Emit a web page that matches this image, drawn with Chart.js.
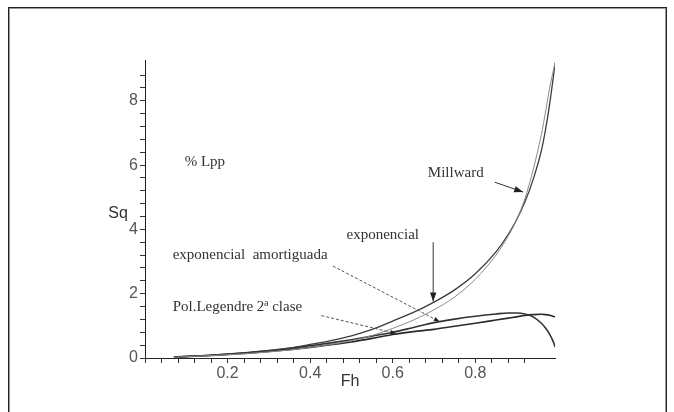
<!DOCTYPE html>
<html>
<head>
<meta charset="utf-8">
<script src="https://cdn.jsdelivr.net/npm/chart.js@4/dist/chart.umd.min.js"></script>
<style>
  html, body { margin: 0; padding: 0; background: #fff; }
  canvas { display: block; }
</style>
</head>
<body>
<canvas id="c" width="674" height="412"></canvas>
<script>
// Fh values shared by every curve
const fh = [0.07, 0.1, 0.15, 0.2, 0.25, 0.3, 0.35, 0.4, 0.45, 0.5, 0.55, 0.6, 0.65, 0.7,
            0.75, 0.8, 0.85, 0.88, 0.9, 0.92, 0.94, 0.96, 0.97, 0.98, 0.99, 0.993];

// Squat (% Lpp) for each formulation
const sqExponencial = [0.03, 0.05, 0.08, 0.12, 0.17, 0.23, 0.31, 0.42, 0.54, 0.69, 0.89, 1.15, 1.42, 1.74,
                       2.12, 2.62, 3.30, 3.85, 4.30, 4.85, 5.55, 6.45, 7.10, 7.90, 8.85, 9.18];
const sqMillward    = [0.02, 0.04, 0.07, 0.10, 0.14, 0.19, 0.25, 0.33, 0.42, 0.54, 0.70, 0.92, 1.18, 1.50,
                       1.90, 2.45, 3.20, 3.80, 4.30, 4.95, 5.85, 6.95, 7.65, 8.40, 9.00, 9.18];
const sqAmortiguada = [0.03, 0.05, 0.08, 0.12, 0.17, 0.23, 0.30, 0.38, 0.47, 0.57, 0.68, 0.80, 0.95, 1.10,
                       1.21, 1.30, 1.37, 1.40, 1.40, 1.37, 1.28, 1.08, 0.93, 0.74, 0.47, 0.34];
const sqLegendre    = [0.02, 0.04, 0.07, 0.11, 0.15, 0.20, 0.26, 0.33, 0.41, 0.50, 0.61, 0.73, 0.82, 0.89,
                       0.99, 1.08, 1.18, 1.24, 1.28, 1.32, 1.35, 1.36, 1.35, 1.33, 1.29, 1.28];

// Labelled ticks
const xTickLabels = [0.2, 0.4, 0.6, 0.8];
const yTickLabels = [0, 2, 4, 6, 8];

// Curve labels: text anchor (left, middle) and optional arrow [from, to] in data units
const notes = [
  { text: '% Lpp', at: [0.096, 6.1] },
  { text: 'Millward', at: [0.685, 5.75], arrow: [[0.847, 5.47], [0.916, 5.16]], dashed: false },
  { text: 'exponencial', at: [0.488, 3.82], arrow: [[0.698, 3.6], [0.698, 1.76]], dashed: false },
  { text: 'exponencial  amortiguada', at: [0.067, 3.19], arrow: [[0.455, 2.86], [0.714, 1.13]], dashed: true },
  { text: 'Pol.Legendre 2\u00aa clase', at: [0.067, 1.57], arrow: [[0.427, 1.32], [0.609, 0.76]], dashed: true }
];

const pts = ys => fh.map((x, i) => ({ x: x, y: ys[i] }));

function near(v, list) { return list.some(t => Math.abs(v - t) < 1e-6); }

const framePlugin = {
  id: 'frame',
  beforeDraw(chart) {
    const ctx = chart.ctx;
    ctx.save();
    ctx.fillStyle = '#fff';
    ctx.fillRect(0, 0, chart.width, chart.height);
    ctx.strokeStyle = '#222';
    ctx.lineWidth = 1;
    ctx.strokeRect(8.5, 7.5, 658, 420);
    ctx.strokeStyle = '#999';
    ctx.strokeRect(9.5, 8.5, 656, 420);
    ctx.restore();
  }
};

function arrowHead(ctx, x0, y0, x1, y1, len, half) {
  const a = Math.atan2(y1 - y0, x1 - x0);
  ctx.beginPath();
  ctx.moveTo(x1, y1);
  ctx.lineTo(x1 - len * Math.cos(a) + half * Math.sin(a), y1 - len * Math.sin(a) - half * Math.cos(a));
  ctx.lineTo(x1 - len * Math.cos(a) - half * Math.sin(a), y1 - len * Math.sin(a) + half * Math.cos(a));
  ctx.closePath();
  ctx.fill();
}

const notesPlugin = {
  id: 'notes',
  afterDatasetsDraw(chart) {
    const ctx = chart.ctx, xs = chart.scales.x, ys = chart.scales.y;
    ctx.save();
    // axis titles
    ctx.fillStyle = '#333';
    ctx.font = '16px "Liberation Sans", Arial, sans-serif';
    ctx.textBaseline = 'middle';
    ctx.textAlign = 'center';
    ctx.fillText('Fh', (xs.left + xs.right) / 2, 382);
    ctx.fillText('Sq', 118, 214);
    // curve labels
    ctx.font = '15px "Liberation Serif", "Times New Roman", serif';
    ctx.textAlign = 'left';
    notes.forEach(n => {
      ctx.fillStyle = '#333';
      ctx.fillText(n.text, xs.getPixelForValue(n.at[0]), ys.getPixelForValue(n.at[1]));
      if (n.arrow) {
        const x0 = xs.getPixelForValue(n.arrow[0][0]), y0 = ys.getPixelForValue(n.arrow[0][1]);
        const x1 = xs.getPixelForValue(n.arrow[1][0]), y1 = ys.getPixelForValue(n.arrow[1][1]);
        ctx.strokeStyle = n.dashed ? '#555' : '#333';
        ctx.lineWidth = 1;
        ctx.setLineDash(n.dashed ? [3, 2] : []);
        ctx.beginPath();
        ctx.moveTo(x0, y0);
        ctx.lineTo(x1, y1);
        ctx.stroke();
        ctx.setLineDash([]);
        ctx.fillStyle = '#222';
        arrowHead(ctx, x0, y0, x1, y1, n.dashed ? 6 : 9, n.dashed ? 2.2 : 3.2);
      }
    });
    ctx.restore();
  }
};

const lineStyle = (color, width) => ({
  borderColor: color, borderWidth: width, pointRadius: 0, fill: false,
  cubicInterpolationMode: 'monotone'
});

new Chart(document.getElementById('c'), {
  type: 'line',
  data: {
    datasets: [
      Object.assign({ label: 'Millward', data: pts(sqMillward) }, lineStyle('#8a8a8a', 1)),
      Object.assign({ label: 'exponencial', data: pts(sqExponencial) }, lineStyle('#3a3a3a', 1.3)),
      Object.assign({ label: 'exponencial amortiguada', data: pts(sqAmortiguada) }, lineStyle('#333', 1.6)),
      Object.assign({ label: 'Pol.Legendre 2\u00aa clase', data: pts(sqLegendre) }, lineStyle('#2a2a2a', 1.6))
    ]
  },
  options: {
    responsive: false,
    animation: false,
    events: [],
    layout: { padding: { left: 0, top: 60, right: 119, bottom: 0 } },
    plugins: { legend: { display: false }, tooltip: { enabled: false } },
    scales: {
      x: {
        type: 'linear', min: 0, max: 0.993,
        afterFit: s => { s.height = 54; },
        afterBuildTicks: s => { s.ticks = s.ticks.filter(t => t.value < 0.98); },
        border: { display: true, color: '#222', width: 1 },
        grid: { drawOnChartArea: false, drawTicks: true, tickLength: 5, color: '#333' },
        ticks: {
          stepSize: 0.04, autoSkip: false, maxRotation: 0, padding: 1,
          color: '#555', font: { family: '"Liberation Sans", Arial, sans-serif', size: 16 },
          callback: v => near(v, xTickLabels) ? v.toFixed(1) : ''
        }
      },
      y: {
        type: 'linear', min: 0, max: 9.27,
        afterFit: s => { s.width = 145; },
        afterBuildTicks: s => { s.ticks = s.ticks.filter(t => t.value < 9.25); },
        border: { display: true, color: '#222', width: 1 },
        grid: { drawOnChartArea: false, drawTicks: true, tickLength: 5, color: '#333' },
        ticks: {
          stepSize: 0.4, autoSkip: false, padding: 2,
          color: '#555', font: { family: '"Liberation Sans", Arial, sans-serif', size: 16 },
          callback: v => near(v, yTickLabels) ? String(Math.round(v)) : ''
        }
      }
    }
  },
  plugins: [framePlugin, notesPlugin]
});
</script>
</body>
</html>
